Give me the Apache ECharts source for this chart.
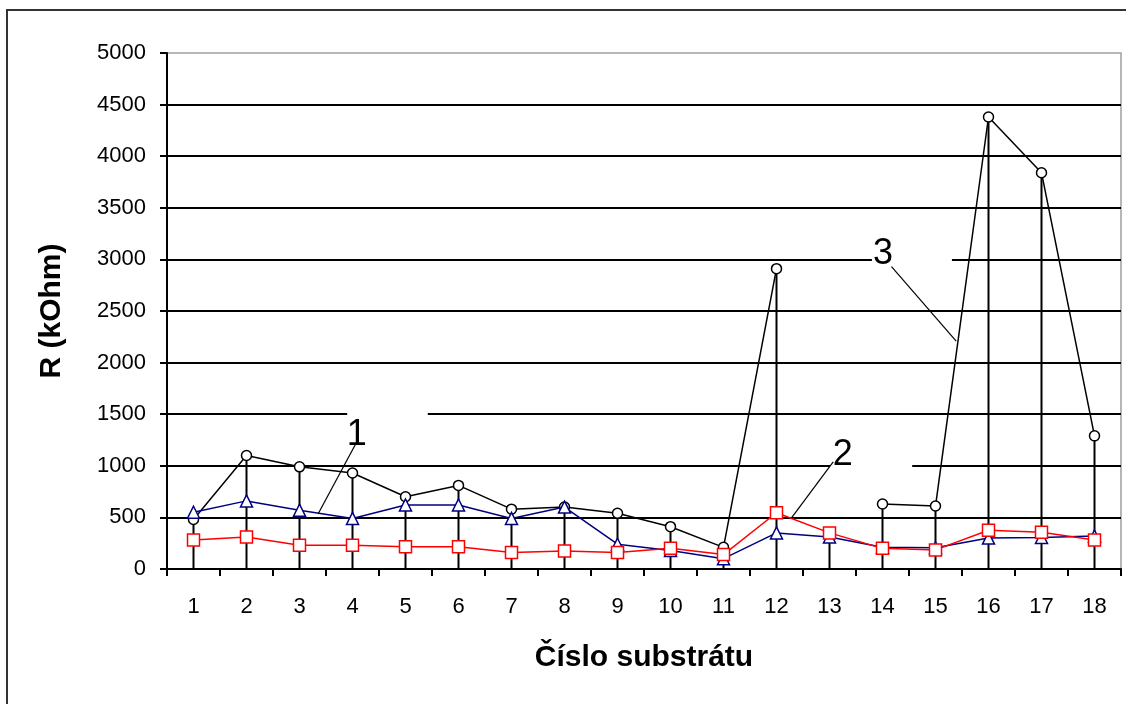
<!DOCTYPE html>
<html>
<head>
<meta charset="utf-8">
<title>R (kOhm) – Číslo substrátu</title>
<script src="https://cdn.jsdelivr.net/npm/echarts@6/dist/echarts.min.js"></script>
<style>
  html, body { margin: 0; padding: 0; background: #fff; }
  #chart { width: 1126px; height: 704px; }
</style>
</head>
<body>
<div id="chart"></div>
<script>
// Substrate numbers on the x axis
const categories = ['1','2','3','4','5','6','7','8','9','10','11','12','13','14','15','16','17','18'];

// Resistance per substrate, kOhm
const series1 = [550, 660, 570, 490, 620, 620, 490, 600, 240, 180, 100, 350, 310, 210, 205, 300, 305, 320];
const series2 = [280, 310, 230, 230, 215, 215, 160, 175, 160, 200, 140, 545, 350, 200, 185, 375, 355, 280];
const series3 = [480, 1100, 990, 930, 700, 810, 580, 600, 540, 410, 210, 2910, null, 630, 610, 4380, 3840, 1290];

// Value axis range and step
const yMin = 0;
const yMax = 5000;
const yStep = 500;

// Curve labels: text, label position, leader start, leader end, white box corners
// (x in substrate numbers, y in kOhm)
const curveLabels = [
  { text: '1', at: [4.08, 1300], from: [4.10, 1250], to: [3.35, 533], box: [[3.90, 1590], [5.42, 1060]] },
  { text: '2', at: [13.25, 1105], from: [13.07, 1037], to: [12.29, 501], box: [[13.01, 1250], [14.56, 870]] },
  { text: '3', at: [14.01, 3047], from: [14.17, 2929], to: [15.39, 2209], box: [[13.80, 3230], [15.31, 2760]] }
];

// Top of each drop line: the highest reading at that substrate
const dropTop = categories.map((_, i) =>
  Math.max(...[series1[i], series2[i], series3[i]].filter(v => v != null)));

const FONT = '"Liberation Sans", Arial, sans-serif';

const chart = echarts.init(document.getElementById('chart'), null, { renderer: 'canvas' });

chart.setOption({
  backgroundColor: '#fff',
  animation: false,
  grid: {
    left: 167, top: 53, right: 5, bottom: 135,
    show: true, borderColor: '#a0a0a0', borderWidth: 1.5, backgroundColor: 'transparent'
  },
  xAxis: {
    type: 'category',
    data: categories,
    boundaryGap: true,
    name: 'Číslo substrátu',
    nameLocation: 'middle',
    nameGap: 74,
    nameTextStyle: { fontFamily: FONT, fontSize: 30, fontWeight: 'bold', color: '#000' },
    axisLine: { show: true, onZero: false, lineStyle: { color: '#000', width: 2 } },
    axisTick: { show: true, inside: false, length: 7, alignWithLabel: false, lineStyle: { color: '#000', width: 2 } },
    axisLabel: { fontFamily: FONT, fontSize: 22, color: '#000', margin: 27 },
    splitLine: { show: false }
  },
  yAxis: {
    type: 'value',
    min: yMin, max: yMax, interval: yStep,
    name: 'R (kOhm)',
    nameLocation: 'middle',
    nameGap: 100,
    nameRotate: 90,
    nameTextStyle: { fontFamily: FONT, fontSize: 30, fontWeight: 'bold', color: '#000' },
    axisLine: { show: true, lineStyle: { color: '#000', width: 2 } },
    axisTick: { show: true, length: 7, lineStyle: { color: '#000', width: 2 } },
    axisLabel: { fontFamily: FONT, fontSize: 22, color: '#000', margin: 21, formatter: v => String(v) },
    splitLine: { show: true, showMaxLine: false, lineStyle: { color: '#000', width: 2 } }
  },
  series: [
    {
      // vertical drop lines from the highest reading down to zero
      type: 'custom',
      z: 1,
      silent: true,
      data: dropTop.map((v, i) => [i, v]),
      renderItem: (params, api) => {
        const top = api.coord([api.value(0), api.value(1)]);
        const bot = api.coord([api.value(0), 0]);
        return {
          type: 'line',
          shape: { x1: top[0], y1: top[1], x2: bot[0], y2: bot[1] },
          style: { stroke: '#000', lineWidth: 2 }
        };
      }
    },
    {
      name: '3',
      type: 'line',
      data: series3,
      connectNulls: false,
      symbol: 'circle',
      symbolSize: 10,
      z: 3,
      lineStyle: { color: '#000', width: 1.5 },
      itemStyle: { color: '#fff', borderColor: '#000', borderWidth: 1.5 }
    },
    {
      name: '1',
      type: 'line',
      data: series1,
      symbol: 'triangle',
      symbolSize: 12,
      z: 4,
      lineStyle: { color: '#000080', width: 1.5 },
      itemStyle: { color: '#fff', borderColor: '#000080', borderWidth: 1.5 }
    },
    {
      name: '2',
      type: 'line',
      data: series2,
      symbol: 'rect',
      symbolSize: 12,
      z: 5,
      lineStyle: { color: '#ff0000', width: 1.5 },
      itemStyle: { color: '#fff', borderColor: '#ff0000', borderWidth: 1.5 }
    }
  ]
});

// Map (substrate number, kOhm) to pixels, allowing fractional substrate numbers
function toPx(pt) {
  const a = chart.convertToPixel({ xAxisIndex: 0, yAxisIndex: 0 }, [0, pt[1]]);
  const b = chart.convertToPixel({ xAxisIndex: 0, yAxisIndex: 0 }, [1, pt[1]]);
  const step = b[0] - a[0];
  return [a[0] + (pt[0] - 1) * step, a[1]];
}

const graphics = [
  // outer frame of the figure
  {
    type: 'rect', z: 0, silent: true,
    shape: { x: 7, y: 10, width: 1200, height: 800 },
    style: { fill: 'none', stroke: '#333', lineWidth: 2 }
  }
];

curveLabels.forEach(lb => {
  const p0 = toPx(lb.box[0]);
  const p1 = toPx(lb.box[1]);
  graphics.push({
    type: 'rect', z: 1, silent: true,
    shape: { x: p0[0], y: p0[1], width: p1[0] - p0[0], height: p1[1] - p0[1] },
    style: { fill: '#fff', stroke: null }
  });
  const f = toPx(lb.from);
  const t = toPx(lb.to);
  graphics.push({
    type: 'line', z: 10, silent: true,
    shape: { x1: f[0], y1: f[1], x2: t[0], y2: t[1] },
    style: { stroke: '#000', lineWidth: 1.2 }
  });
  const c = toPx(lb.at);
  graphics.push({
    type: 'text', z: 10, silent: true,
    x: c[0], y: c[1],
    style: {
      text: lb.text, fill: '#000',
      font: '36px ' + FONT,
      align: 'center', verticalAlign: 'middle'
    }
  });
});

chart.setOption({ graphic: graphics });
</script>
</body>
</html>
